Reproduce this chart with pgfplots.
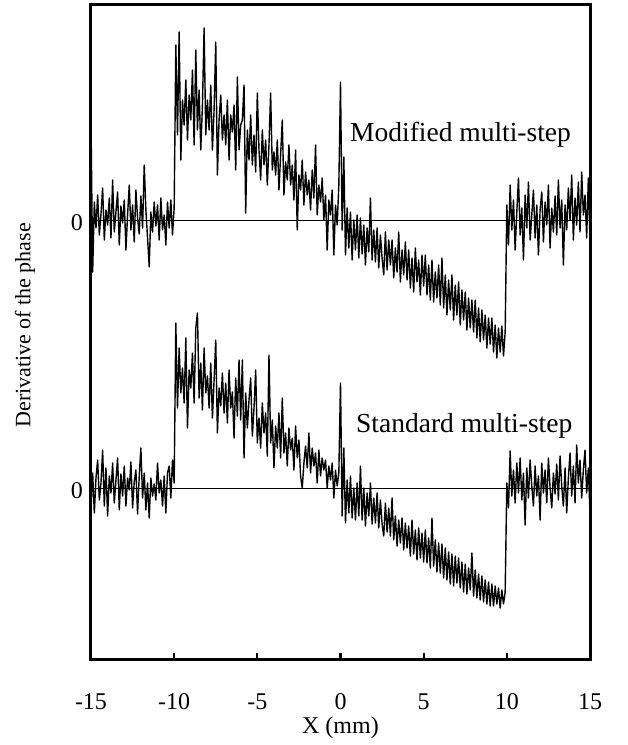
\documentclass[border=0pt]{standalone}
\usepackage{fontspec}
\setmainfont{Liberation Serif}
\usepackage{pgfplots}
\pgfplotsset{compat=1.18}
\usepackage{pgfplotstable}

% Modified multi-step: offsets from its zero line, x = -15 + 0.1*index
\pgfplotstableread[row sep=\\]{
y\\
100\\ -52\\ 18\\ -8\\ 25\\ -15\\ 6\\ 32\\ -20\\ 10\\
-5\\ 22\\ -18\\ 40\\ -12\\ 8\\ 28\\ -25\\ 14\\ -3\\
20\\ -30\\ 5\\ 35\\ -10\\ 15\\ -22\\ 30\\ 2\\ -14\\
24\\ -8\\ 55\\ 10\\ -18\\ -47\\ 8\\ -12\\ 18\\ -6\\
15\\ -20\\ 22\\ -10\\ 5\\ -25\\ 18\\ -8\\ 20\\ -15\\
12\\
175\\ 85\\ 188\\ 60\\ 120\\ 95\\ 140\\ 80\\ 125\\ 100\\
150\\ 75\\ 170\\ 90\\ 130\\ 70\\ 115\\ 192\\ 85\\ 120\\
90\\ 135\\ 70\\ 110\\ 178\\ 45\\ 100\\ 125\\ 80\\ 105\\
75\\ 120\\ 60\\ 105\\ 88\\ 115\\ 50\\ 143\\ 70\\ 95\\
100\\ 135\\ 7\\ 90\\ 60\\ 105\\ 55\\ 85\\ 48\\ 127\\
70\\ 40\\ 90\\ 55\\ 80\\ 35\\ 75\\ 127\\ 50\\ 68\\
45\\ 80\\ 30\\ 65\\ 100\\ 25\\ 58\\ 40\\ 75\\ 35\\
55\\ 20\\ 70\\ -10\\ 45\\ 30\\ 60\\ 15\\ 48\\ 25\\
40\\ 10\\ 50\\ 22\\ 75\\ 5\\ 35\\ 18\\ 42\\ 0\\
25\\ -30\\ 20\\ 5\\ 30\\ -35\\ 15\\ -5\\ 35\\ 138\\
-10\\ 63\\ -35\\ 12\\ -28\\ 8\\ -40\\ 0\\ -30\\ 5\\
-38\\ 2\\ -34\\ -5\\ -45\\ -8\\ -32\\ 22\\ -40\\ -10\\
-42\\ -8\\ -48\\ -15\\ -38\\ -55\\ -12\\ -50\\ -20\\ -45\\
-20\\ -58\\ -28\\ -52\\ -12\\ -62\\ -30\\ -55\\ -22\\ -60\\
-30\\ -68\\ -38\\ -72\\ -28\\ -62\\ -40\\ -75\\ -35\\ -66\\
-35\\ -75\\ -45\\ -80\\ -40\\ -82\\ -52\\ -78\\ -45\\ -85\\
-38\\ -88\\ -55\\ -95\\ -60\\ -90\\ -55\\ -100\\ -65\\ -95\\
-62\\ -105\\ -70\\ -100\\ -72\\ -110\\ -78\\ -108\\ -80\\ -112\\
-80\\ -118\\ -88\\ -122\\ -90\\ -120\\ -95\\ -128\\ -98\\ -124\\
-98\\ -132\\ -105\\ -138\\ -108\\ -132\\ -106\\ -136\\ -112\\
15\\ -25\\ 35\\ -10\\ 20\\ -30\\ 8\\ 42\\ -15\\ 12\\
-40\\ 25\\ -8\\ 38\\ -20\\ 5\\ 30\\ -18\\ 15\\ -35\\
10\\ 28\\ -22\\ 18\\ -5\\ 35\\ -28\\ 12\\ -12\\ 24\\
-15\\ 40\\ -8\\ 20\\ -45\\ 15\\ -10\\ 32\\ 0\\ 45\\
-20\\ 22\\ -5\\ 38\\ -12\\ 48\\ 5\\ 25\\ -18\\ 42\\
-20\\
}\modtab

% Standard multi-step: offsets from its zero line, x = -15 + 0.1*index
\pgfplotstableread[row sep=\\]{
y\\
-20\\ 15\\ -25\\ 10\\ 28\\ -12\\ 5\\ 38\\ -18\\ 20\\
-28\\ 12\\ -5\\ 25\\ -15\\ 8\\ 30\\ -22\\ 14\\ -8\\
22\\ -18\\ 10\\ -2\\ 26\\ -20\\ 6\\ 18\\ -26\\ 12\\
40\\ -10\\ 15\\ -22\\ 5\\ -30\\ 10\\ -8\\ 4\\ -12\\
25\\ -5\\ 8\\ -18\\ 12\\ -25\\ 15\\ 22\\ -10\\ 28\\
5\\
165\\ 80\\ 140\\ 95\\ 120\\ 85\\ 150\\ 60\\ 118\\ 100\\
135\\ 85\\ 160\\ 175\\ 90\\ 125\\ 78\\ 140\\ 95\\ 112\\
80\\ 125\\ 70\\ 108\\ 148\\ 55\\ 100\\ 82\\ 115\\ 75\\
105\\ 65\\ 118\\ 80\\ 96\\ 50\\ 110\\ 72\\ 128\\ 68\\
128\\ 30\\ 95\\ 60\\ 88\\ 110\\ 52\\ 80\\ 118\\ 45\\
70\\ 40\\ 85\\ 55\\ 75\\ 32\\ 133\\ 45\\ 68\\ 20\\
62\\ 40\\ 75\\ 30\\ 90\\ 35\\ 55\\ 22\\ 60\\ 38\\
50\\ 18\\ 62\\ 30\\ 48\\ 12\\ 0\\ 25\\ 42\\ 20\\
55\\ 15\\ 40\\ 22\\ 35\\ 5\\ 38\\ 12\\ 30\\ 18\\
28\\ 0\\ 22\\ 8\\ 25\\ -10\\ 18\\ 2\\ 15\\ 105\\
-28\\ 40\\ -35\\ 8\\ -25\\ 12\\ -30\\ 0\\ -32\\ 5\\
-28\\ 22\\ -32\\ 0\\ -38\\ -5\\ -28\\ 5\\ -36\\ -10\\
-35\\ -5\\ -40\\ -12\\ -36\\ -48\\ -15\\ -44\\ -20\\ -48\\
-10\\ -52\\ -28\\ -58\\ -32\\ -55\\ -30\\ -62\\ -35\\ -60\\
-38\\ -68\\ -32\\ -66\\ -42\\ -72\\ -40\\ -70\\ -45\\ -74\\
-42\\ -75\\ -50\\ -80\\ -30\\ -78\\ -52\\ -84\\ -55\\ -85\\
-56\\ -90\\ -60\\ -92\\ -64\\ -96\\ -66\\ -98\\ -68\\ -95\\
-70\\ -100\\ -74\\ -104\\ -76\\ -106\\ -80\\ -102\\ -65\\ -108\\
-82\\ -110\\ -86\\ -112\\ -88\\ -114\\ -92\\ -116\\ -94\\ -118\\
-96\\ -118\\ -98\\ -116\\ -100\\ -120\\ -102\\ -116\\ -104\\
5\\ -20\\ 37\\ -8\\ 18\\ -15\\ 25\\ -5\\ 30\\ -12\\
15\\ -37\\ 20\\ -10\\ 28\\ 2\\ -18\\ 22\\ -8\\ 12\\
-32\\ 25\\ -5\\ 18\\ -15\\ 30\\ 0\\ -20\\ 15\\ -6\\
24\\ -12\\ 32\\ 2\\ -18\\ 20\\ -25\\ 10\\ 35\\ -8\\
22\\ -15\\ 43\\ 5\\ 28\\ -10\\ 18\\ 38\\ -5\\ 20\\
-25\\
}\stdtab

\begin{document}
\begin{tikzpicture}
\begin{axis}[
  name=ax,
  scale only axis, width=499pt, height=655pt,
  xmin=-15, xmax=15, ymin=0, ymax=655,
  xtick={-15,-10,-5,0,5,10,15},
  xticklabels={-15,-10,-5,0,5,10,15},
  xtick pos=bottom, ytick pos=left,
  tick align=inside, major tick length=7pt,
  major tick style={line width=2.2pt, black},
  ytick={172,440}, yticklabels={0,0},
  y tick style={draw=none},
  xticklabel style={anchor=center, yshift=-42pt},
  yticklabel style={anchor=center, xshift=-14pt, yshift=-3pt},
  tick label style={font=\fontsize{24}{28}\selectfont},
  xlabel={X (mm)},
  xlabel style={at={(axis description cs:0.5,-0.1038)}, anchor=center, font=\fontsize{24}{28}\selectfont},
  ylabel={Derivative of the phase},
  ylabel style={at={(axis description cs:-0.1323,0.511)}, anchor=center, font=\fontsize{22}{26}\selectfont},
]
\addplot[black, line width=0.8pt] coordinates {(-15,440) (15,440)};
\addplot[black, line width=0.8pt] coordinates {(-15,172) (15,172)};
\addplot[black, line width=1.4pt, line join=round] table[x index=0, y index=0, x expr=\coordindex*0.1-15, y expr=\thisrow{y}+440] {\modtab};
\addplot[black, line width=1.4pt, line join=round] table[x index=0, y index=0, x expr=\coordindex*0.1-15, y expr=\thisrow{y}+172] {\stdtab};
\node[anchor=base west, inner sep=0pt, font=\fontsize{27.5}{33}\selectfont] at (axis cs:0.57,518) {Modified multi-step};
\node[anchor=base west, inner sep=0pt, font=\fontsize{27.5}{33}\selectfont] at (axis cs:0.93,227) {Standard multi-step};
\end{axis}
\draw[line width=3pt] (ax.south west) rectangle (ax.north east);
\path ([shift={(-91pt,-85pt)}]ax.south west) rectangle ([shift={(38pt,5pt)}]ax.north east);
\end{tikzpicture}
\end{document}
